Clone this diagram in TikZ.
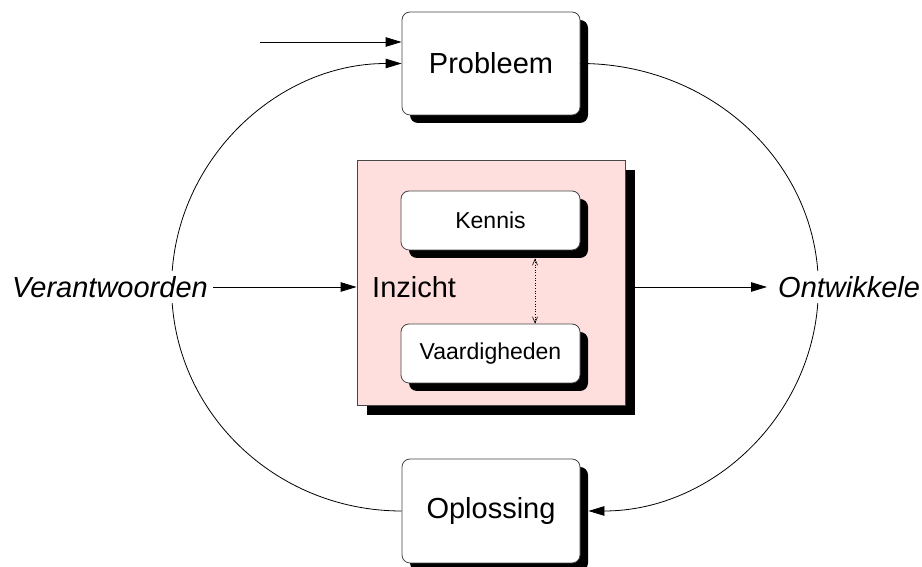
\documentclass[tikz,border=0pt]{standalone}
\usepackage{fontspec}
\setmainfont{Liberation Sans}
\usetikzlibrary{shadows,arrows.meta,calc}
\definecolor{pinkfill}{RGB}{255,222,222}
\definecolor{boxline}{RGB}{70,70,70}
\tikzset{
  box/.style={draw=boxline, line width=0.8pt, fill=white, rounded corners=8pt,
    drop shadow={shadow xshift=8pt, shadow yshift=-8pt, fill=black, opacity=1}},
  bigtext/.style={font=\fontsize{29}{34}\selectfont},
  smalltext/.style={font=\fontsize{23}{27}\selectfont},
  tip/.tip={Triangle[length=16pt,width=9.5pt]},
  arr/.style={line width=0.8pt, -tip},
  curve/.style={line width=0.8pt},
  lbl/.style={font=\fontsize{29}{34}\selectfont\itshape, fill=white, inner sep=5pt}
}
\begin{document}
\begin{tikzpicture}[x=1pt,y=1pt]
\useasboundingbox (0,0) rectangle (922,567);
\node[box, minimum width=178pt, minimum height=103pt, bigtext] (P) at (491,503.5) {Probleem};
\node[box, minimum width=178pt, minimum height=104pt, bigtext] (O) at (491,56) {Oplossing};
% big loops (text nodes with white fill cover them)
\draw[curve, -tip] (O.west) arc[start angle=270, end angle=90, x radius=230, y radius=223.75];
\draw[curve, -tip] (P.east) arc[start angle=90, end angle=0, x radius=238, y radius=223.5]
  arc[start angle=0, end angle=-90, x radius=230, y radius=224];
% incoming arrow at top left
\coordinate (in0) at (260,525);
\draw[arr] (in0) -- (in0 -| P.west);
% central box
\node[draw=boxline, line width=0.8pt, fill=pinkfill, minimum width=268pt, minimum height=245pt,
  drop shadow={shadow xshift=10pt, shadow yshift=-10pt, fill=black, opacity=1}] (I) at (491,284.5) {};
\node[bigtext, anchor=west, inner sep=0pt] (Itxt) at (372,280) {Inzicht};
\node[box, minimum width=179pt, minimum height=59pt, smalltext] (K) at (490.5,346.5) {Kennis};
\node[box, minimum width=179pt, minimum height=59pt, smalltext] (V) at (490.5,213.5) {Vaardigheden};
\draw[line width=0.6pt, dotted, {Straight Barb[length=6pt,width=5pt]}-{Straight Barb[length=6pt,width=5pt]}]
  ($(K.south)+(44.5,-8)$) -- ($(V.north)+(44.5,0)$);
% side labels
\node[lbl] (Ver) at (110,280) {Verantwoorden};
\node[lbl, anchor=west] (Ont) at (773,280) {Ontwikkele};
\draw[arr] (Ver.east) -- (Ver.east -| I.west);
\draw[arr, shorten >=6pt] ($(Ont.west -| I.east)+(10,0)$) -- (Ont.west);
\end{tikzpicture}
\end{document}
